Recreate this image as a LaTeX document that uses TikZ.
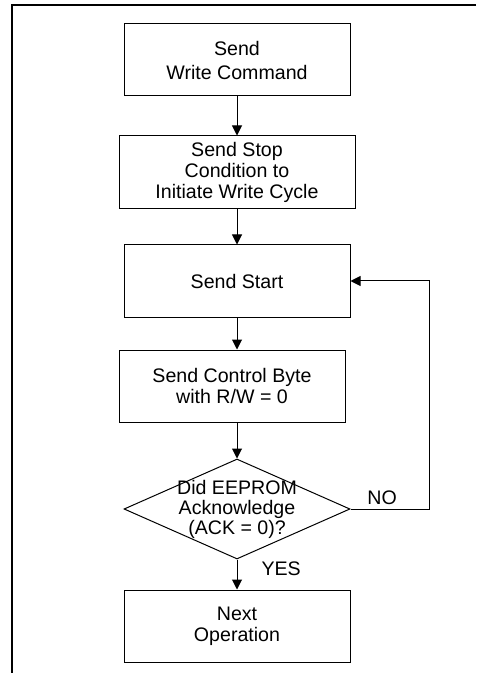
\documentclass[tikz,border=0pt]{standalone}
\usepackage{fontspec}
\setmainfont{Liberation Sans}
\usepackage{tikz}
\usetikzlibrary{shapes.geometric,arrows.meta,positioning}

\begin{document}
\begin{tikzpicture}[
    box/.style={rectangle, draw, line width=0.5pt, minimum width=113pt, minimum height=36pt, inner sep=2pt, align=center, font=\fontsize{9.8}{10.5}\selectfont},
    decision/.style={diamond, draw, line width=0.5pt, minimum width=113pt, minimum height=50pt, inner sep=0pt},
    lbl/.style={inner sep=2pt, font=\fontsize{9.8}{10}\selectfont},
    arrow/.style={-{Triangle[length=5pt,width=5pt]}, line width=0.5pt},
    frame/.style={line width=1pt}
]
    \useasboundingbox (0,0) rectangle (238pt,-336.5pt);

    % Outer frame
    \draw[frame] (238pt,-2.5pt) -- (6pt,-2.5pt) -- (6pt,-336.5pt);

    % Write sequence
    \node[box] (cmd) at (118.5pt,-30pt) {Send\\[1.5pt]Write Command};
    \node[box, minimum width=118pt, minimum height=36.5pt, below=19.5pt of cmd] (stop) {Send Stop\\Condition to\\Initiate Write Cycle};

    % Polling loop
    \node[box, below=17.5pt of stop] (start) {Send Start};
    \node[box, below=16pt of start, xshift=-2.5pt] (ctrl) {Send Control Byte\\with R/W = 0};
    \node[decision, below=18pt of ctrl, xshift=2.5pt] (ack) {};
    \node[lbl, align=center, font=\fontsize{9.8}{10}\selectfont] at (ack) {Did EEPROM\\Acknowledge\\(ACK = 0)?};

    % Done
    \node[box, below=15pt of ack] (next) {Next\\Operation};

    % Arrows
    \draw[arrow] (cmd) -- (stop);
    \draw[arrow] (stop) -- (start);
    \draw[arrow] (start.south) -- (start.south |- ctrl.north);
    \draw[arrow] (ack.north |- ctrl.south) -- (ack.north);
    \draw[arrow] (ack.south) -- node[lbl, right=10pt, pos=0.32] {YES} (next.north);
    \draw[arrow] (ack.east) -- node[lbl, above, pos=0.4] {NO} ++(39.5pt,0) |- (start.east);
\end{tikzpicture}
\end{document}
